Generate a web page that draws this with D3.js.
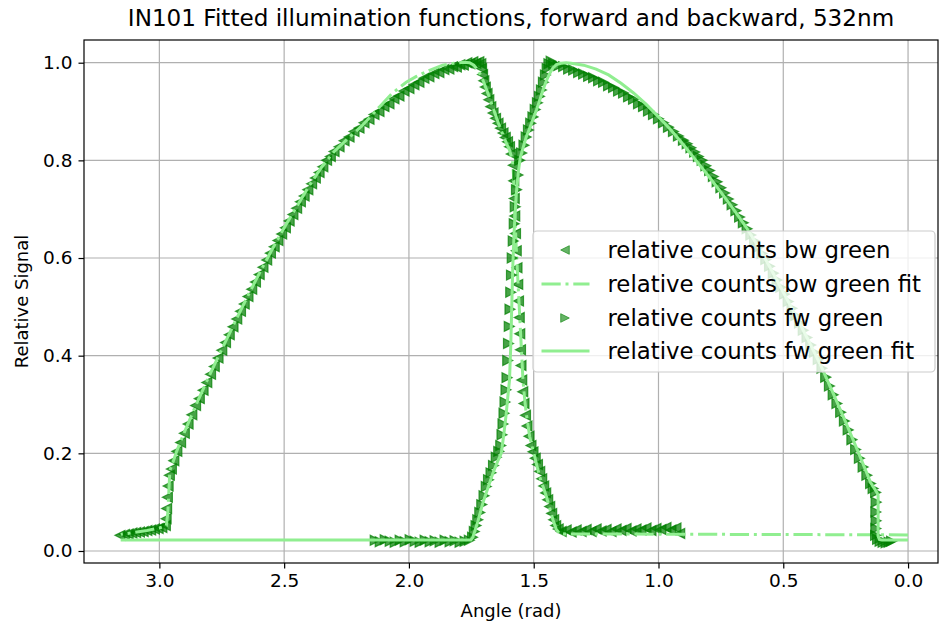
<!DOCTYPE html>
<html><head><meta charset="utf-8">
<script src="https://cdn.jsdelivr.net/npm/d3@7"></script>
<style>body{margin:0;background:#fff} text{font-family:"DejaVu Sans",sans-serif}</style>
</head><body><svg id="c" width="940" height="627"></svg>
<script>
const title = "IN101 Fitted illumination functions, forward and backward, 532nm";
const xLabel = "Angle (rad)", yLabel = "Relative Signal";
const xTicks = [0, 0.5, 1.0, 1.5, 2.0, 2.5, 3.0];
const yTicks = [0, 0.2, 0.4, 0.6, 0.8, 1.0];
const seriesNames = ["relative counts bw green", "relative counts bw green fit", "relative counts fw green", "relative counts fw green fit"];

// backward scan data [angle, relative signal]
const bwData = [
[0.915,0.036],[0.93,0.047],[0.95,0.043],[0.97,0.048],[0.99,0.044],[1.01,0.046],[1.03,0.042],[1.05,0.047],[1.07,0.043],[1.09,0.045],[1.11,0.041],[1.13,0.046],[1.15,0.042],[1.17,0.045],[1.19,0.040],[1.21,0.044],[1.23,0.041],[1.25,0.045],[1.27,0.040],[1.29,0.044],[1.31,0.040],[1.33,0.043],[1.35,0.039],[1.37,0.043],[1.39,0.040],[1.402,0.045],
[1.412,0.052],[1.420,0.064],[1.428,0.077],[1.436,0.091],[1.444,0.105],[1.452,0.119],[1.460,0.133],[1.468,0.148],[1.476,0.163],[1.485,0.177],[1.494,0.190],[1.503,0.203],[1.511,0.216],[1.519,0.235],[1.527,0.256],[1.533,0.278],[1.539,0.302],[1.544,0.326],[1.548,0.350],
[1.551,0.380],[1.553,0.412],[1.556,0.445],[1.558,0.478],[1.561,0.512],[1.564,0.546],[1.567,0.580],[1.570,0.615],[1.573,0.650],[1.576,0.686],[1.578,0.722],[1.580,0.758],[1.582,0.790],
[1.590,0.813],[1.597,0.828],[1.605,0.838],[1.614,0.847],[1.623,0.856],[1.633,0.866],[1.643,0.876],[1.653,0.886],[1.663,0.897],[1.672,0.910],[1.680,0.924],[1.687,0.937],[1.694,0.950],[1.700,0.963],[1.705,0.976],[1.709,0.988],[1.712,0.998],
[1.720,1.002],[1.732,0.999],[1.744,1.002],[1.756,0.998],[1.768,1.000],[1.782,0.995],[1.796,0.996],[1.810,0.991],
[1.825,0.992],[1.84,0.987],[1.86,0.986],[1.88,0.980],[1.90,0.978],[1.92,0.971],[1.94,0.968],[1.96,0.960],[1.98,0.955],[2.00,0.947],[2.02,0.942],[2.04,0.932],[2.06,0.926],[2.08,0.916],[2.10,0.910],[2.12,0.900],[2.14,0.894],[2.16,0.884],[2.18,0.877],[2.20,0.866],[2.22,0.859],[2.24,0.848],[2.26,0.840],[2.28,0.828],[2.30,0.818],[2.315,0.808],[2.33,0.800],[2.345,0.787],[2.36,0.775],[2.375,0.764],[2.39,0.752],[2.405,0.740],[2.42,0.727],[2.435,0.715],[2.45,0.702],[2.465,0.689],[2.48,0.676],[2.495,0.662],[2.51,0.649],[2.525,0.636],[2.54,0.623],[2.555,0.610],[2.57,0.596],[2.585,0.581],[2.60,0.566],[2.615,0.551],[2.63,0.536],[2.645,0.521],[2.66,0.506],[2.675,0.491],[2.69,0.475],[2.705,0.459],[2.72,0.443],[2.735,0.427],[2.75,0.411],[2.765,0.395],[2.78,0.378],[2.795,0.362],[2.81,0.345],[2.825,0.329],[2.84,0.312],[2.855,0.298],[2.87,0.279],[2.885,0.260],[2.90,0.241],[2.915,0.222],[2.93,0.204],[2.942,0.185],[2.952,0.168],
[2.960,0.155],[2.965,0.133],[2.968,0.110],[2.971,0.087],[2.973,0.066],[2.976,0.052],
[2.99,0.048],[3.005,0.046],[3.02,0.045],[3.035,0.043],[3.05,0.042],[3.065,0.040],[3.08,0.039],[3.095,0.038],[3.11,0.037],[3.125,0.035],[3.14,0.034],[3.158,0.032]
];

// forward scan data [angle, relative signal]
const fwData = [
[2.135,0.022],[2.115,0.019],[2.095,0.023],[2.075,0.020],[2.055,0.018],[2.035,0.022],[2.015,0.019],[1.995,0.023],[1.975,0.020],[1.955,0.018],[1.935,0.022],[1.915,0.019],[1.895,0.021],[1.875,0.018],[1.855,0.022],[1.835,0.019],[1.815,0.021],[1.795,0.018],[1.775,0.020],[1.758,0.022],
[1.745,0.028],[1.738,0.040],[1.731,0.052],[1.724,0.064],[1.716,0.079],[1.708,0.095],[1.699,0.113],[1.690,0.132],[1.681,0.146],[1.671,0.160],[1.661,0.175],[1.650,0.192],[1.640,0.204],[1.632,0.216],[1.627,0.238],[1.623,0.260],[1.619,0.282],[1.615,0.305],[1.611,0.330],[1.607,0.355],
[1.604,0.390],[1.601,0.425],[1.598,0.460],[1.595,0.495],[1.592,0.530],[1.589,0.565],[1.586,0.600],[1.582,0.635],[1.578,0.670],[1.574,0.705],[1.569,0.740],[1.563,0.770],[1.556,0.800],
[1.548,0.815],[1.539,0.831],[1.530,0.848],[1.521,0.862],[1.512,0.876],[1.503,0.889],[1.494,0.904],[1.485,0.918],[1.477,0.931],[1.469,0.944],[1.461,0.960],[1.453,0.975],[1.446,0.988],[1.439,0.998],[1.430,1.003],
[1.42,0.998],[1.40,0.994],[1.38,0.992],[1.36,0.987],[1.34,0.985],[1.32,0.980],[1.30,0.977],[1.28,0.972],[1.26,0.969],[1.24,0.963],[1.22,0.960],[1.20,0.953],[1.18,0.949],[1.16,0.942],[1.14,0.938],[1.12,0.930],[1.10,0.925],[1.08,0.916],[1.06,0.910],[1.04,0.901],[1.02,0.894],[1.00,0.885],[0.98,0.877],[0.96,0.868],[0.94,0.859],[0.92,0.850],[0.90,0.841],[0.885,0.834],[0.87,0.826],[0.855,0.817],[0.84,0.808],[0.825,0.800],[0.81,0.789],[0.795,0.779],[0.78,0.767],[0.765,0.756],[0.75,0.744],[0.735,0.733],[0.72,0.721],[0.705,0.709],[0.69,0.697],[0.675,0.684],[0.66,0.672],[0.645,0.660],[0.63,0.647],[0.615,0.635],[0.60,0.622],[0.585,0.609],[0.57,0.597],[0.555,0.583],[0.54,0.569],[0.525,0.555],[0.51,0.540],[0.495,0.526],[0.48,0.511],[0.465,0.497],[0.45,0.482],[0.435,0.467],[0.42,0.452],[0.405,0.437],[0.39,0.422],[0.375,0.407],[0.36,0.392],[0.345,0.374],[0.33,0.356],[0.315,0.338],[0.30,0.320],[0.285,0.302],[0.27,0.284],[0.255,0.266],[0.24,0.248],[0.225,0.228],[0.21,0.208],[0.195,0.190],[0.18,0.172],[0.165,0.155],[0.15,0.138],[0.14,0.128],[0.13,0.120],
[0.128,0.100],[0.129,0.080],[0.128,0.062],[0.129,0.046],[0.130,0.032],[0.122,0.024],[0.112,0.020],[0.100,0.018],[0.088,0.017],[0.076,0.018],[0.066,0.020]
];

// fitted illumination functions
const bwFit = [
[0.000,0.033],[1.396,0.035],[1.410,0.045],[1.423,0.064],[1.436,0.088],[1.449,0.111],[1.462,0.131],[1.476,0.152],[1.486,0.172],[1.496,0.193],[1.506,0.213],[1.516,0.234],[1.523,0.258],[1.530,0.282],[1.537,0.315],[1.543,0.350],[1.550,0.420],[1.557,0.490],[1.563,0.550],[1.569,0.610],[1.574,0.670],[1.578,0.720],[1.581,0.770],[1.585,0.800],[1.597,0.821],[1.610,0.836],[1.623,0.852],[1.643,0.878],[1.663,0.908],[1.684,0.938],[1.704,0.965],[1.720,0.982],[1.740,0.995],[1.757,1.000],[1.780,1.001],[1.820,0.999],[1.865,0.995],[1.920,0.984],[1.970,0.972],[2.011,0.960],[2.070,0.936],[2.131,0.902],[2.190,0.870],[2.250,0.842],[2.300,0.818],[2.350,0.786],[2.400,0.748],[2.450,0.705],[2.500,0.662],[2.550,0.616],[2.600,0.568],[2.650,0.518],[2.700,0.466],[2.750,0.413],[2.800,0.359],[2.850,0.303],[2.900,0.243],[2.930,0.205],[2.950,0.175],[2.958,0.165],[2.966,0.080],[2.972,0.052],[3.000,0.047],[3.050,0.042],[3.100,0.038],[3.155,0.034]
];
const fwFit = [
[3.155,0.0225],[1.752,0.0225],[1.744,0.028],[1.735,0.042],[1.724,0.060],[1.704,0.098],[1.683,0.130],[1.663,0.160],[1.645,0.183],[1.630,0.200],[1.620,0.238],[1.610,0.282],[1.603,0.320],[1.597,0.350],[1.592,0.420],[1.588,0.500],[1.584,0.580],[1.578,0.660],[1.570,0.730],[1.562,0.775],[1.554,0.805],[1.543,0.825],[1.530,0.848],[1.516,0.866],[1.503,0.884],[1.489,0.903],[1.476,0.923],[1.463,0.944],[1.450,0.962],[1.436,0.978],[1.422,0.990],[1.409,0.996],[1.390,0.999],[1.370,1.000],[1.350,0.999],[1.300,0.995],[1.250,0.987],[1.200,0.975],[1.150,0.958],[1.100,0.938],[1.050,0.915],[1.000,0.889],[0.950,0.862],[0.900,0.832],[0.850,0.800],[0.800,0.768],[0.750,0.735],[0.700,0.700],[0.650,0.664],[0.600,0.623],[0.550,0.578],[0.500,0.530],[0.450,0.482],[0.400,0.432],[0.350,0.380],[0.300,0.323],[0.250,0.264],[0.200,0.203],[0.150,0.140],[0.125,0.120],[0.120,0.114],[0.120,0.030],[0.115,0.0235],[0.105,0.0225],[0.000,0.0225]
];

const svg = d3.select("#c");
const M = {l: 84, r: 938, t: 40, b: 563};
const x = d3.scaleLinear().domain([3.302, -0.120]).range([M.l, M.r]);
const y = d3.scaleLinear().domain([-0.0246, 1.0465]).range([M.b, M.t]);
const dataColor = "#008000", fitColor = "#90ee90";
const fontTick = 18.5;

svg.append("rect").attr("width", 940).attr("height", 627).attr("fill", "#fff");
svg.append("defs").append("clipPath").attr("id", "clip")
  .append("rect").attr("x", M.l).attr("y", M.t).attr("width", M.r - M.l).attr("height", M.b - M.t);

// grid
const grid = svg.append("g");
grid.selectAll(".gx").data(xTicks).join("line")
  .attr("x1", d => x(d)).attr("x2", d => x(d)).attr("y1", M.t).attr("y2", M.b)
  .attr("stroke", "#b0b0b0").attr("stroke-width", 1.2);
grid.selectAll(".gy").data(yTicks).join("line")
  .attr("y1", d => y(d)).attr("y2", d => y(d)).attr("x1", M.l).attr("x2", M.r)
  .attr("stroke", "#b0b0b0").attr("stroke-width", 1.2);

const plot = svg.append("g").attr("clip-path", "url(#clip)");
const tri = hh => ({
  left: `M${-hh},0L${hh},${-hh}L${hh},${hh}Z`,
  right: `M${hh},0L${-hh},${-hh}L${-hh},${hh}Z`
});
const big = tri(5), small = tri(4.3);
const line = d3.line().x(d => x(d[0])).y(d => y(d[1]));

function markers(data, shape) {
  plot.append("g").selectAll("path").data(data).join("path")
    .attr("d", shape)
    .attr("transform", d => `translate(${x(d[0])},${y(d[1])})`)
    .attr("fill", dataColor).attr("stroke", dataColor).attr("stroke-width", 1.2)
    .attr("fill-opacity", 0.72).attr("stroke-opacity", 0.72);
}
markers(bwData, big.left);
plot.append("path").datum(bwFit).attr("d", line).attr("fill", "none")
  .attr("stroke", fitColor).attr("stroke-width", 3).attr("stroke-dasharray", "19.2,4.8,3,4.8");
markers(fwData, big.right);
plot.append("path").datum(fwFit).attr("d", line).attr("fill", "none")
  .attr("stroke", fitColor).attr("stroke-width", 3);

// frame
svg.append("rect").attr("x", M.l).attr("y", M.t).attr("width", M.r - M.l).attr("height", M.b - M.t)
  .attr("fill", "none").attr("stroke", "#000").attr("stroke-width", 1.2);

// axes
const xa = svg.append("g").attr("transform", `translate(0,${M.b})`)
  .call(d3.axisBottom(x).tickValues(xTicks).tickFormat(d3.format(".1f")).tickSize(5.5).tickPadding(5).tickSizeOuter(0));
const ya = svg.append("g").attr("transform", `translate(${M.l},0)`)
  .call(d3.axisLeft(y).tickValues(yTicks).tickFormat(d3.format(".1f")).tickSize(5.5).tickPadding(6).tickSizeOuter(0));
[xa, ya].forEach(a => {
  a.select(".domain").remove();
  a.selectAll(".tick line").attr("stroke", "#000").attr("stroke-width", 1.2);
  a.selectAll(".tick text").attr("font-size", fontTick).attr("font-family", "DejaVu Sans").attr("fill", "#000");
});

svg.append("text").attr("x", (M.l + M.r) / 2).attr("y", 617).attr("text-anchor", "middle")
  .attr("font-size", 18).text(xLabel);
svg.append("text").attr("transform", `translate(28,${(M.t + M.b) / 2}) rotate(-90)`).attr("text-anchor", "middle")
  .attr("font-size", 18).text(yLabel);
svg.append("text").attr("x", (M.l + M.r) / 2).attr("y", 26).attr("text-anchor", "middle")
  .attr("font-size", 23.1).text(title);

// legend
const L = {x: 533, y: 231, w: 402, h: 141};
const lg = svg.append("g");
lg.append("rect").attr("x", L.x).attr("y", L.y).attr("width", L.w).attr("height", L.h)
  .attr("rx", 4).attr("fill", "#fff").attr("fill-opacity", 0.8)
  .attr("stroke", "#cccccc").attr("stroke-width", 1.2);
const rowY = [250, 284, 318, 351];
const kinds = ["triL", "dash", "triR", "solid"];
seriesNames.forEach((name, i) => {
  const yy = rowY[i];
  if (kinds[i] === "triL" || kinds[i] === "triR") {
    lg.append("path").attr("d", kinds[i] === "triL" ? small.left : small.right)
      .attr("transform", `translate(565,${yy})`)
      .attr("fill", dataColor).attr("stroke", dataColor).attr("stroke-width", 1)
      .attr("fill-opacity", 0.6).attr("stroke-opacity", 0.6);
  } else {
    lg.append("line").attr("x1", 541.5).attr("x2", 589.5).attr("y1", yy).attr("y2", yy)
      .attr("stroke", fitColor).attr("stroke-width", 3)
      .attr("stroke-dasharray", kinds[i] === "dash" ? "19.2,4.8,3,4.8" : null);
  }
  lg.append("text").attr("x", 607.5).attr("y", yy).attr("dy", "0.36em")
    .attr("font-size", 22.8).text(name);
});
</script></body></html>
